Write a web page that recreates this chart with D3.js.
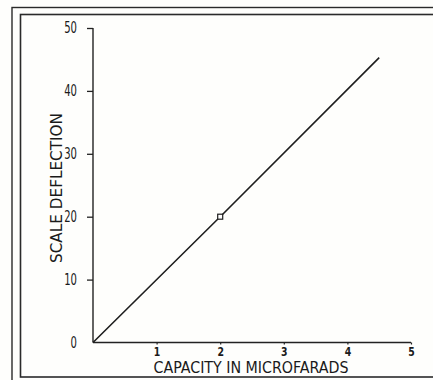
<!DOCTYPE html>
<html>
<head>
<meta charset="utf-8">
<script src="https://cdn.jsdelivr.net/npm/d3@7"></script>
<style>
  html, body { margin: 0; padding: 0; background: #fefefc; overflow: hidden; }
  svg { display: block; }
  text { font-family: "DejaVu Sans Condensed", "DejaVu Sans", sans-serif; fill: #1a1a1a; }
</style>
</head>
<body>
<script>
// Calibration curve: scale deflection against capacity
const xTicks = [1, 2, 3, 4, 5];
const yTicks = [0, 10, 20, 30, 40, 50];
const capacity = [0, 2, 4.5];
const deflection = [0, 20, 45.3];
const markCapacity = [2];
const markDeflection = [20];

const W = 433, H = 380;
const svg = d3.select("body").append("svg").attr("width", W).attr("height", H);

// double frame around the figure (runs past the right and bottom edges)
svg.append("rect").attr("x", 12).attr("y", 7.5).attr("width", 700).attr("height", 600)
  .attr("fill", "none").attr("stroke", "#2a2a2a").attr("stroke-width", 1.4);
svg.append("rect").attr("x", 20.5).attr("y", 14.5).attr("width", 700).attr("height", 362.5)
  .attr("fill", "none").attr("stroke", "#2a2a2a").attr("stroke-width", 1.6);

const x = d3.scaleLinear().domain([0, 5]).range([93, 411]);
const y = d3.scaleLinear().domain([0, 50]).range([342.5, 28]);

// squeeze digit labels into the narrow printed face
const narrow = (w) => sel => sel.each(function () {
  const n = this.textContent.length;
  d3.select(this).attr("textLength", n * w).attr("lengthAdjust", "spacingAndGlyphs");
});

// vertical axis
const yAxis = svg.append("g").attr("transform", `translate(${x(0)},0)`)
  .call(d3.axisLeft(y).tickValues(yTicks).tickSize(6).tickPadding(10).tickFormat(d3.format("d")));
yAxis.select(".domain").attr("stroke", "#222").attr("stroke-width", 1.4).attr("d", `M0,${y(50)}V${y(0)}`);
yAxis.selectAll(".tick line").attr("stroke", "#222").attr("stroke-width", 1.3);
yAxis.selectAll(".tick line").filter(d => d === 0).remove();
yAxis.selectAll(".tick text").attr("font-size", 15.5).attr("fill", "#1a1a1a")
  .style("font-family", "'DejaVu Sans Condensed', 'DejaVu Sans', sans-serif")
  .call(narrow(6.4));

// horizontal axis
const xAxis = svg.append("g").attr("transform", `translate(0,${y(0)})`)
  .call(d3.axisBottom(x).tickValues(xTicks).tickSize(2).tickPadding(2).tickFormat(d3.format("d")));
xAxis.select(".domain").attr("stroke", "#222").attr("stroke-width", 1.4).attr("d", `M${x(0)},0H${x(5)}`);
xAxis.selectAll(".tick line").attr("stroke", "#222").attr("stroke-width", 1.2);
xAxis.selectAll(".tick text").attr("font-size", 13).attr("fill", "#1a1a1a")
  .attr("font-weight", "bold")
  .style("font-family", "'DejaVu Sans Condensed', 'DejaVu Sans', sans-serif")
  .call(narrow(6.5));

// axis titles
svg.append("text")
  .attr("transform", `translate(61.5,188) rotate(-90)`)
  .attr("text-anchor", "middle")
  .attr("font-size", 16)
  .attr("textLength", 150).attr("lengthAdjust", "spacingAndGlyphs")
  .text("SCALE DEFLECTION");
svg.append("text")
  .attr("x", 251).attr("y", 373)
  .attr("text-anchor", "middle")
  .attr("font-size", 15.5)
  .attr("textLength", 195).attr("lengthAdjust", "spacingAndGlyphs")
  .text("CAPACITY IN MICROFARADS");

// curve
const pts = capacity.map((c, i) => [c, deflection[i]]);
svg.append("path")
  .attr("d", d3.line().x(d => x(d[0])).y(d => y(d[1]))(pts))
  .attr("fill", "none").attr("stroke", "#1e1e1e").attr("stroke-width", 1.6);

// observed point
svg.selectAll("rect.mark").data(markCapacity.map((c, i) => [c, markDeflection[i]]))
  .enter().append("rect").attr("class", "mark")
  .attr("x", d => x(d[0]) - 2.5).attr("y", d => y(d[1]) - 2.5)
  .attr("width", 5).attr("height", 5)
  .attr("fill", "#fff").attr("stroke", "#1e1e1e").attr("stroke-width", 1.2);
</script>
</body>
</html>
